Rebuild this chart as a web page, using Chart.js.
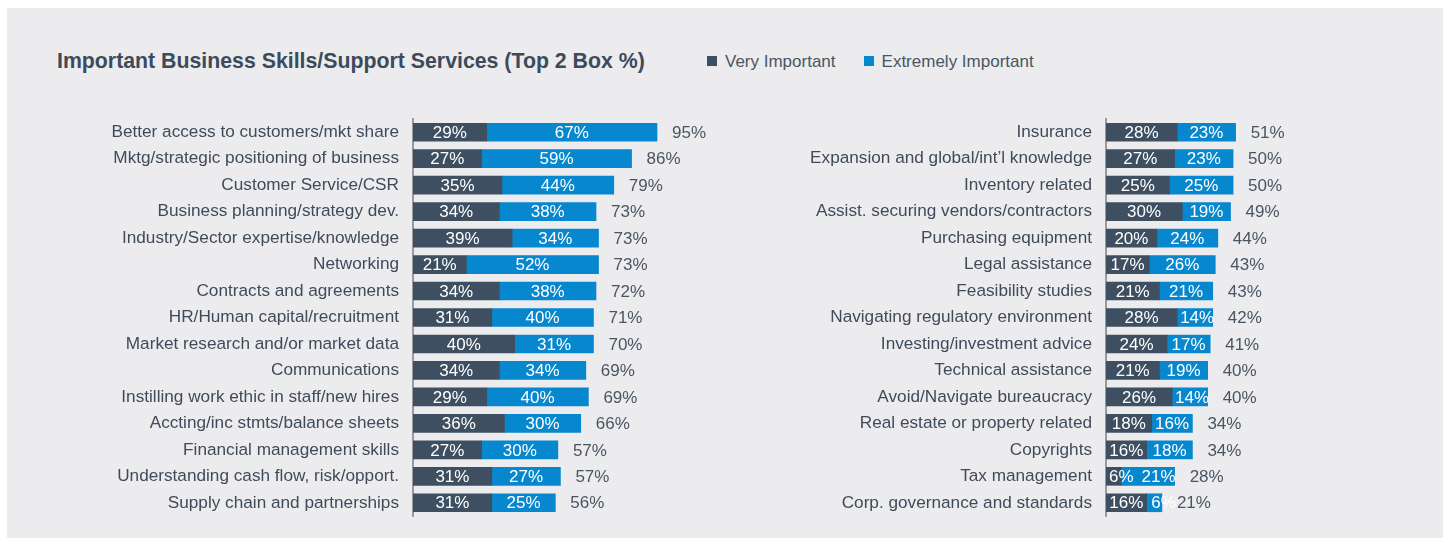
<!DOCTYPE html>
<html>
<head>
<meta charset="utf-8">
<title>Important Business Skills/Support Services</title>
<script src="https://cdn.jsdelivr.net/npm/chart.js@4.4.0/dist/chart.umd.min.js"></script>
<style>
  html, body { margin: 0; padding: 0; background: #ffffff; }
  body { width: 1448px; height: 544px; position: relative; overflow: hidden; font-family: "Liberation Sans", Arial, sans-serif; }
  #panel { position: absolute; left: 7px; top: 8px; width: 1436px; height: 530px; background: #ececee; }
  #titulo { position: absolute; left: 57px; top: 48px; font-size: 21.3px; font-weight: bold; color: #3c4b5b; line-height: 26px; white-space: nowrap; }
  #legenda { position: absolute; left: 707px; top: 50px; font-size: 17px; color: #4a5563; line-height: 24px; white-space: nowrap; }
  #legenda span.item { display: inline-block; margin-right: 28px; }
  #legenda span.cor { display: inline-block; width: 10px; height: 10px; margin-right: 8px; vertical-align: 1px; }
  canvas { position: absolute; top: 0; }
</style>
</head>
<body>
<div id="panel"></div>
<div id="titulo">Important Business Skills/Support Services (Top 2 Box %)</div>
<div id="legenda"></div>
<canvas id="graficoEsq" width="718" height="544" style="left:0px"></canvas>
<canvas id="graficoDir" width="691" height="544" style="left:720px"></canvas>
<script>
// Séries e cores
const series = ['Very Important', 'Extremely Important'];
const cores = ['#3e4f61', '#0787cd'];

// Painel da esquerda
const categoriasEsq = [
  'Better access to customers/mkt share',
  'Mktg/strategic positioning of business',
  'Customer Service/CSR',
  'Business planning/strategy dev.',
  'Industry/Sector expertise/knowledge',
  'Networking',
  'Contracts and agreements',
  'HR/Human capital/recruitment',
  'Market research and/or market data',
  'Communications',
  'Instilling work ethic in staff/new hires',
  'Accting/inc stmts/balance sheets',
  'Financial management skills',
  'Understanding cash flow, risk/opport.',
  'Supply chain and partnerships'
];
const veryEsq = [29, 27, 35, 34, 39, 21, 34, 31, 40, 34, 29, 36, 27, 31, 31];
const extremeEsq = [67, 59, 44, 38, 34, 52, 38, 40, 31, 34, 40, 30, 30, 27, 25];
const totalEsq = [95, 86, 79, 73, 73, 73, 72, 71, 70, 69, 69, 66, 57, 57, 56];

// Painel da direita
const categoriasDir = [
  'Insurance',
  'Expansion and global/int\u2019l knowledge',
  'Inventory related',
  'Assist. securing vendors/contractors',
  'Purchasing equipment',
  'Legal assistance',
  'Feasibility studies',
  'Navigating regulatory environment',
  'Investing/investment advice',
  'Technical assistance',
  'Avoid/Navigate bureaucracy',
  'Real estate or property related',
  'Copyrights',
  'Tax management',
  'Corp. governance and standards'
];
const veryDir = [28, 27, 25, 30, 20, 17, 21, 28, 24, 21, 26, 18, 16, 6, 16];
const extremeDir = [23, 23, 25, 19, 24, 26, 21, 14, 17, 19, 14, 16, 18, 21, 6];
const totalDir = [51, 50, 50, 49, 44, 43, 43, 42, 41, 40, 40, 34, 34, 28, 21];

const fonte = '"Liberation Sans", Arial, sans-serif';

// Legenda em HTML
const legendaEl = document.getElementById('legenda');
series.forEach((s, i) => {
  const item = document.createElement('span');
  item.className = 'item';
  item.innerHTML = `<span class="cor" style="background:${cores[i]}"></span>${s}`;
  legendaEl.appendChild(item);
});

// Plugin: % dentro de cada segmento e total à direita da barra
const rotulos = {
  id: 'rotulos',
  afterDatasetsDraw(chart, args, opts) {
    const ctx = chart.ctx;
    ctx.save();
    ctx.font = `17px ${fonte}`;
    ctx.textBaseline = 'middle';
    ctx.textAlign = 'left';
    const n = chart.data.labels.length;
    for (let i = 0; i < n; i++) {
      let fimAnterior = -Infinity;
      chart.data.datasets.forEach((ds, di) => {
        const bar = chart.getDatasetMeta(di).data[i];
        const txt = ds.data[i] + '%';
        const w = ctx.measureText(txt).width;
        const centro = (bar.base + bar.x) / 2;
        // segmentos estreitos: empurra o texto para a direita
        const x = Math.max(centro - w / 2, bar.base + 3, fimAnterior + 8);
        ctx.fillStyle = '#ffffff';
        ctx.fillText(txt, x, bar.y + 1);
        fimAnterior = x + w;
      });
    }
    const metaUlt = chart.getDatasetMeta(chart.data.datasets.length - 1);
    metaUlt.data.forEach((bar, i) => {
      ctx.fillStyle = '#4a5563';
      ctx.fillText(opts.totais[i] + '%', bar.x + 15, bar.y + 1);
    });
    ctx.restore();
  }
};

function criarGrafico(el, categorias, very, extreme, totais, larguraEixo) {
  return new Chart(el, {
    type: 'bar',
    data: {
      labels: categorias,
      datasets: [
        { label: series[0], data: very, backgroundColor: cores[0] },
        { label: series[1], data: extreme, backgroundColor: cores[1] }
      ]
    },
    options: {
      indexAxis: 'y',
      responsive: false,
      animation: false,
      layout: { padding: { top: 119, bottom: 28, left: 0, right: 0 } },
      datasets: { bar: { barThickness: 18, borderWidth: 0 } },
      scales: {
        x: { stacked: true, min: 0, max: 120, display: false },
        y: {
          stacked: true,
          grid: { display: false, drawTicks: false },
          border: { display: true, color: '#9a9a9e', width: 2 },
          ticks: { padding: 14, color: '#404b5a', font: { family: fonte, size: 17.2 } },
          afterFit(scale) { scale.width = larguraEixo; }
        }
      },
      plugins: {
        legend: { display: false },
        tooltip: { enabled: false },
        rotulos: { totais: totais }
      }
    },
    plugins: [rotulos]
  });
}

criarGrafico(document.getElementById('graficoEsq'), categoriasEsq, veryEsq, extremeEsq, totalEsq, 413);
criarGrafico(document.getElementById('graficoDir'), categoriasDir, veryDir, extremeDir, totalDir, 386);
</script>
</body>
</html>
